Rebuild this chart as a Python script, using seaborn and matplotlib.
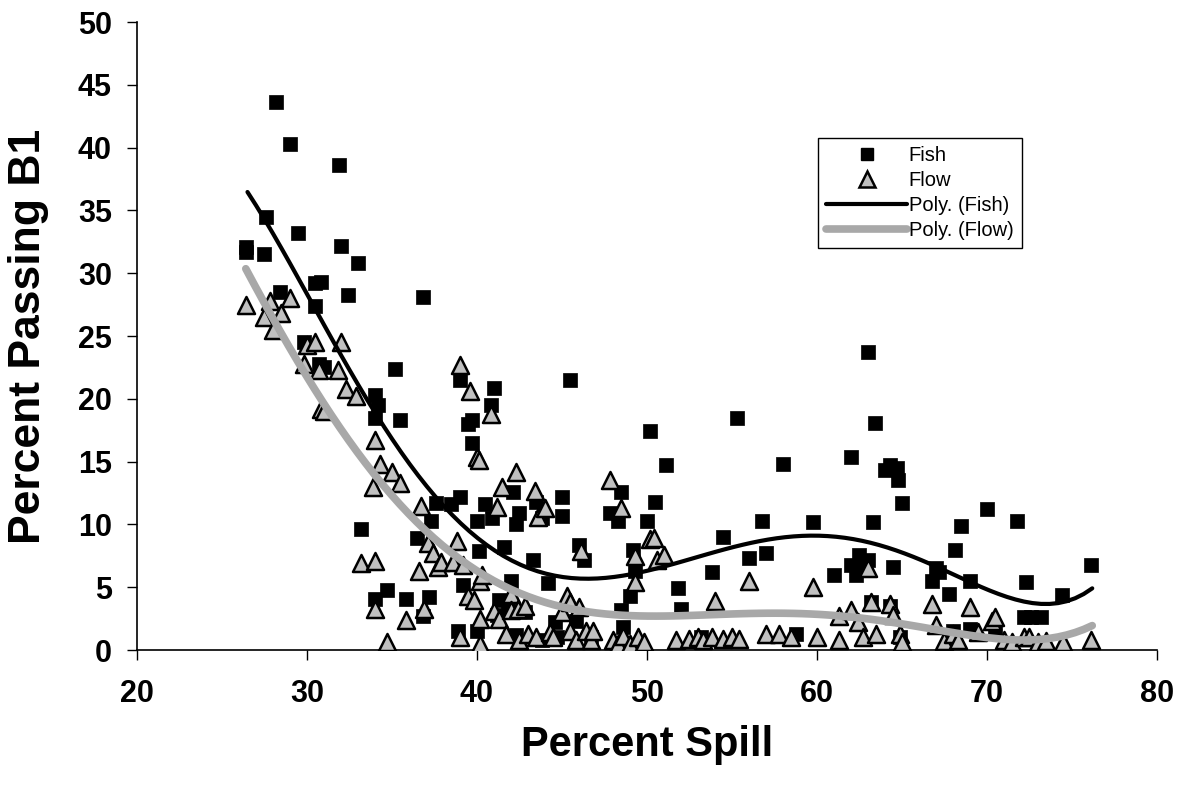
import numpy as np
import pandas as pd
import matplotlib
matplotlib.use("Agg")
import matplotlib.pyplot as plt
import seaborn as sns
from matplotlib.lines import Line2D

fish_x = [26.4, 26.4, 27.5, 27.6, 28.2, 28.4, 29.0, 29.5, 29.8, 30.5, 30.5, 30.8, 30.7, 31.0,
          31.9, 32.0, 32.4, 33.0, 33.2, 34.0, 34.0, 34.0, 34.2, 34.7, 35.2, 35.5, 35.8, 36.5,
          36.8, 36.8, 37.2, 37.3, 37.6, 38.5, 38.9, 39.0, 39.0, 39.2, 39.5, 39.7, 39.7, 40.0,
          40.0, 40.1, 40.5, 40.8, 41.0, 40.9, 41.3, 41.6, 41.8, 42.0, 42.1, 42.3, 42.5, 42.3,
          43.3, 43.5, 43.8, 43.8, 44.2, 44.7, 45.0, 45.0, 45.5, 45.8, 46.0, 46.3, 46.7, 47.8,
          48.3, 48.5, 48.6, 48.5, 49.0, 49.2, 49.3, 50.0, 50.2, 50.5, 51.1, 51.8, 52.0, 53.2,
          53.8, 54.5, 55.3, 56.0, 56.8, 57.0, 58.0, 58.8, 59.8, 61.0, 62.0, 62.0, 62.3, 62.5,
          62.8, 63.0, 63.0, 63.2, 63.3, 63.4, 64.0, 64.3, 64.5, 64.7, 64.8, 65.0, 64.9, 66.8,
          67.0, 67.2, 67.8, 68.1, 68.5, 69.0, 70.0, 70.5, 71.8, 72.2, 72.3, 72.6, 73.2, 74.4,
          76.1, 68.0, 64.3, 69.0, 42.8, 44.6, 41.2]
fish_y = [32.1, 31.7, 31.5, 34.5, 43.6, 28.5, 40.3, 33.2, 24.5, 29.2, 27.4, 29.3, 22.8, 22.5,
          38.6, 32.2, 28.3, 30.8, 9.6, 20.3, 18.5, 4.1, 19.5, 4.8, 22.4, 18.3, 4.1, 8.9,
          28.1, 2.7, 4.2, 10.3, 11.7, 11.6, 1.5, 21.5, 12.2, 5.2, 18.0, 16.5, 18.3, 10.3,
          1.5, 7.9, 11.6, 19.5, 20.9, 10.5, 4.0, 8.2, 3.5, 5.5, 12.6, 10.0, 10.9, 1.2,
          7.2, 11.8, 10.5, 0.8, 5.3, 1.0, 12.2, 10.7, 21.5, 2.3, 8.4, 7.2, 1.0, 10.9,
          10.3, 12.6, 1.8, 3.2, 4.3, 8.0, 6.3, 10.3, 17.4, 11.8, 14.7, 4.9, 3.3, 1.0,
          6.2, 9.0, 18.5, 7.3, 10.3, 7.7, 14.8, 1.3, 10.2, 6.0, 15.4, 6.8, 6.0, 7.6,
          6.6, 23.7, 7.2, 3.8, 10.2, 18.1, 14.3, 14.7, 6.6, 14.5, 13.5, 11.7, 1.0, 5.5,
          6.5, 6.2, 4.5, 8.0, 9.9, 5.5, 11.2, 1.5, 10.3, 2.6, 5.4, 2.6, 2.6, 4.4,
          6.8, 1.5, 3.5, 1.7, 3.0, 2.2, 2.8]

flow_x = [26.4, 27.5, 27.8, 28.0, 28.5, 29.0, 29.8, 30.0, 30.5, 30.7, 30.8, 31.0, 32.0, 31.8,
          32.3, 32.9, 33.2, 33.9, 34.0, 34.0, 34.0, 34.3, 34.7, 35.0, 35.5, 35.8, 36.6, 36.7,
          36.9, 37.1, 37.4, 37.7, 37.9, 38.6, 38.8, 39.0, 39.0, 39.2, 39.5, 39.6, 39.8, 40.0,
          40.1, 40.2, 40.2, 40.2, 40.3, 40.8, 41.0, 41.2, 41.5, 41.3, 41.7, 42.0, 42.0, 42.3,
          42.4, 42.5, 42.8, 43.0, 43.4, 43.6, 43.5, 44.0, 44.3, 44.5, 45.0, 45.3, 45.5, 45.5,
          45.8, 46.0, 46.1, 46.4, 46.7, 46.8, 47.8, 48.0, 48.3, 48.5, 48.6, 49.0, 49.3, 49.3,
          49.5, 49.8, 50.2, 50.4, 50.6, 51.0, 51.7, 52.5, 53.0, 53.3, 53.8, 54.0, 54.5, 55.0,
          55.4, 56.0, 57.0, 57.8, 58.5, 59.8, 60.0, 61.3, 61.3, 62.0, 62.4, 62.7, 63.0, 63.2,
          63.5, 64.3, 64.5, 64.9, 65.0, 66.8, 67.0, 67.5, 68.0, 68.3, 69.0, 69.5, 70.3, 70.5,
          71.0, 71.5, 72.2, 72.5, 73.0, 73.5, 74.5, 76.1]
flow_y = [27.5, 26.5, 27.8, 25.5, 26.8, 28.0, 22.8, 24.3, 24.5, 22.3, 19.2, 19.0, 24.5, 22.3,
          20.8, 20.2, 6.9, 13.0, 16.7, 7.1, 3.3, 14.8, 0.6, 14.2, 13.3, 2.4, 6.3, 11.5,
          3.3, 8.5, 7.7, 6.6, 7.0, 7.0, 8.7, 22.7, 1.0, 6.8, 4.3, 20.6, 4.0, 15.4,
          15.1, 5.5, 2.5, 0.5, 6.0, 18.8, 3.1, 11.4, 13.0, 2.5, 1.3, 4.5, 3.2, 14.2,
          3.3, 0.8, 3.5, 1.3, 12.7, 10.6, 1.0, 11.3, 1.4, 1.0, 3.0, 4.3, 3.8, 1.5,
          0.8, 3.4, 7.9, 1.5, 0.8, 1.5, 13.5, 0.8, 0.5, 11.3, 1.1, 0.5, 5.4, 7.5,
          1.0, 0.6, 8.8, 8.9, 7.2, 7.6, 0.8, 0.9, 1.0, 0.8, 1.0, 3.9, 0.9, 1.0,
          0.9, 5.5, 1.3, 1.3, 1.0, 5.0, 1.0, 2.7, 0.8, 3.2, 2.2, 1.0, 6.5, 3.8,
          1.3, 3.7, 2.8, 1.3, 0.6, 3.7, 2.0, 0.7, 1.3, 0.8, 3.4, 1.4, 2.3, 2.6,
          0.8, 0.6, 1.0, 1.0, 0.6, 0.7, 0.6, 0.8]

# Polynomial trendlines
fish_trend_x = [26.5, 27.4, 28.0, 30.2, 31.9, 34.1, 36.1, 38.0, 40.4, 42.9, 45.5, 47.2,
                49.8, 52.7, 56.3, 59.6, 62.9, 66.6, 70.2, 73.1, 74.5, 76.2]
fish_trend_y = [36.8, 34.5, 32.6, 27.9, 23.9, 18.9, 14.6, 11.7, 8.2, 6.6, 5.8, 5.7,
                6.2, 7.4, 8.6, 9.1, 8.6, 6.8, 4.8, 3.7, 3.8, 4.9]
flow_trend_x = [26.4, 27.8, 29.4, 31.4, 33.3, 35.7, 38.0, 40.4, 42.9, 45.2, 47.5, 50.8,
                53.5, 56.4, 60.0, 63.9, 67.5, 70.2, 73.0, 74.8, 76.2]
flow_trend_y = [30.5, 26.5, 23.1, 19.3, 15.1, 11.0, 8.2, 6.1, 4.2, 3.3, 3.0, 2.8,
                2.85, 2.9, 2.8, 2.2, 1.5, 1.0, 0.95, 1.2, 1.9]

x_ticks = [20, 30, 40, 50, 60, 70, 80]
y_ticks = [0, 5, 10, 15, 20, 25, 30, 35, 40, 45, 50]

fish = pd.DataFrame({"x": fish_x, "y": fish_y})
flow = pd.DataFrame({"x": flow_x, "y": flow_y})
fish_trend = pd.DataFrame({"x": fish_trend_x, "y": fish_trend_y})
flow_trend = pd.DataFrame({"x": flow_trend_x, "y": flow_trend_y})

sns.set_theme(style="white")
plt.rcParams['font.family'] = ['Liberation Sans', 'DejaVu Sans']

fig = plt.figure(figsize=(11.79, 7.86), dpi=100)
ax = fig.add_axes([0.1162, 0.173, 0.865, 0.799])

sns.regplot(data=fish_trend, x="x", y="y", order=5, ci=None, scatter=False, ax=ax,
            truncate=True, line_kws=dict(color="black", lw=3.0, zorder=4))
sns.regplot(data=flow_trend, x="x", y="y", order=5, ci=None, scatter=False, ax=ax,
            truncate=True, line_kws=dict(color="#a8a8a8", lw=5.5, zorder=4))

sns.scatterplot(data=fish, x="x", y="y", marker="s", s=95, color="black",
                edgecolor="black", linewidth=0.5, ax=ax, zorder=3)
sns.scatterplot(data=flow, x="x", y="y", marker="^", s=150, color="#c0c0c0",
                edgecolor="black", linewidth=1.8, ax=ax, zorder=3)

ax.set_xlim(20, 80)
ax.set_ylim(0, 50)
ax.set_xticks(x_ticks)
ax.set_yticks(y_ticks)
ax.set_xticklabels([str(v) for v in x_ticks], fontsize=22, fontweight="bold", color="black")
ax.set_yticklabels([str(v) for v in y_ticks], fontsize=22, fontweight="bold", color="black")
ax.tick_params(axis="both", direction="out", length=7, width=1.0, color="black",
               bottom=True, left=True)
ax.tick_params(axis="x", pad=14)
ax.tick_params(axis="y", pad=11)
for s in ["top", "right"]:
    ax.spines[s].set_visible(False)
for s in ["left", "bottom"]:
    ax.spines[s].set_color("black")
    ax.spines[s].set_linewidth(1.2)
ax.set_xlabel("Percent Spill", fontsize=30, fontweight="bold", color="black")
ax.set_ylabel("Percent Passing B1", fontsize=32, fontweight="bold", color="black")
ax.xaxis.set_label_coords(0.5, -0.12)
ax.yaxis.set_label_coords(-0.086, 0.5)

handles = [
    Line2D([], [], marker="s", color="black", linestyle="none", markersize=9),
    Line2D([], [], marker="^", color="#c0c0c0", markeredgecolor="black",
           markeredgewidth=1.8, linestyle="none", markersize=11),
    Line2D([], [], color="black", lw=3.0),
    Line2D([], [], color="#a8a8a8", lw=5.5),
]
leg = ax.legend(handles, ["Fish", "Flow", "Poly. (Fish)", "Poly. (Flow)"],
                loc="upper left", bbox_to_anchor=(0.668, 0.815), fontsize=14.5,
                frameon=True, fancybox=False, edgecolor="black", framealpha=1,
                handlelength=4.0, handletextpad=0.1, borderpad=0.4, labelspacing=0.3,
                borderaxespad=0.0)
leg.get_frame().set_linewidth(1.0)
for t in leg.get_texts():
    t.set_color("black")

fig.savefig("out.png", dpi=100)
